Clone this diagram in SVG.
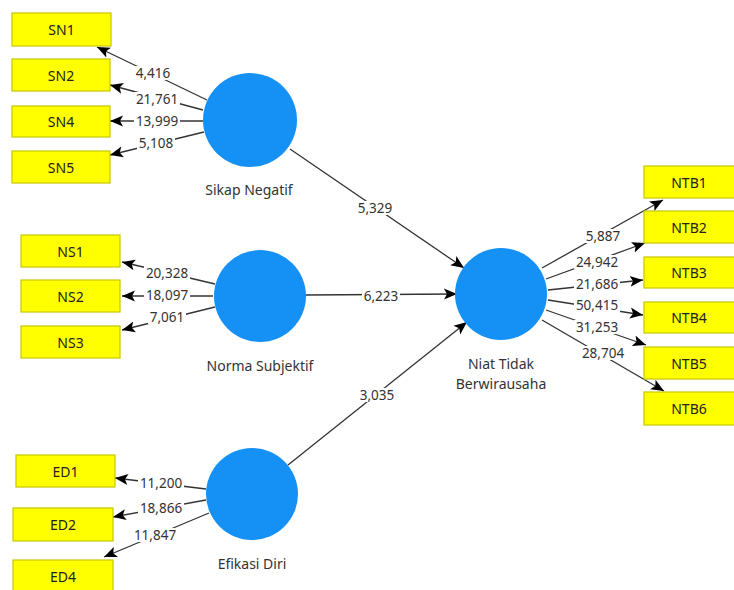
<svg xmlns="http://www.w3.org/2000/svg" width="734" height="590" viewBox="0 0 734 590">
<style>
.box{fill:#ffff00;stroke:#c6c600;stroke-width:1.2}
.bt{font-family:"Noto Sans","Open Sans",sans-serif;font-size:14px;fill:#222;text-anchor:middle;dominant-baseline:central}
.lv{fill:#1591f5}
.lt{font-family:"Noto Sans","Open Sans",sans-serif;font-size:14px;fill:#333;text-anchor:middle}
.e{stroke:#333;stroke-width:1.3;fill:none;marker-end:url(#ah)}
.bg{fill:#fff}
.w{font-family:"Noto Sans","Open Sans",sans-serif;font-size:13.5px;fill:#333;text-anchor:middle;dominant-baseline:central}
</style>
<defs>
<marker id="ah" markerUnits="userSpaceOnUse" markerWidth="14" markerHeight="12" refX="13" refY="6" orient="auto">
<path d="M0,0.5 L13,6 L0,11.5 L3,6 z" fill="#000"/>
</marker>
</defs>
<rect width="734" height="590" fill="#fff"/>
<g id="connectors">
<line class="e" x1="207" y1="100" x2="97" y2="47"/>
<line class="e" x1="203" y1="110" x2="110" y2="85"/>
<line class="e" x1="203" y1="121" x2="110" y2="121"/>
<line class="e" x1="204" y1="132" x2="110" y2="155"/>
<line class="e" x1="215" y1="284" x2="122" y2="262"/>
<line class="e" x1="213" y1="296" x2="122" y2="296"/>
<line class="e" x1="215" y1="307" x2="122" y2="330"/>
<line class="e" x1="206" y1="489" x2="115" y2="478"/>
<line class="e" x1="206" y1="500" x2="113" y2="517"/>
<line class="e" x1="209" y1="513" x2="104" y2="557"/>
<line class="e" x1="290" y1="149" x2="464" y2="268"/>
<line class="e" x1="306" y1="295" x2="457" y2="294"/>
<line class="e" x1="288" y1="465" x2="467" y2="322"/>
<line class="e" x1="542" y1="268" x2="663" y2="200"/>
<line class="e" x1="546" y1="279" x2="645" y2="243"/>
<line class="e" x1="548" y1="290" x2="643" y2="280"/>
<line class="e" x1="548" y1="300" x2="643" y2="315"/>
<line class="e" x1="546" y1="310" x2="646" y2="345"/>
<line class="e" x1="542" y1="320" x2="664" y2="391"/>
<rect class="bg" x="134" y="66" width="38" height="14"/><text class="w" x="153" y="73">4,416</text>
<rect class="bg" x="134" y="92" width="46" height="14"/><text class="w" x="157" y="99">21,761</text>
<rect class="bg" x="134" y="114" width="46" height="14"/><text class="w" x="157" y="121">13,999</text>
<rect class="bg" x="137" y="136" width="38" height="14"/><text class="w" x="156" y="143">5,108</text>
<rect class="bg" x="144" y="266" width="46" height="14"/><text class="w" x="167" y="273">20,328</text>
<rect class="bg" x="144" y="288" width="46" height="14"/><text class="w" x="167" y="295">18,097</text>
<rect class="bg" x="148" y="310" width="38" height="14"/><text class="w" x="167" y="317">7,061</text>
<rect class="bg" x="138" y="476" width="46" height="14"/><text class="w" x="161" y="483">11,200</text>
<rect class="bg" x="138" y="501" width="46" height="14"/><text class="w" x="161" y="508">18,866</text>
<rect class="bg" x="132" y="528" width="46" height="14"/><text class="w" x="155" y="535">11,847</text>
<rect class="bg" x="356" y="201" width="38" height="14"/><text class="w" x="375" y="208">5,329</text>
<rect class="bg" x="362" y="289" width="38" height="14"/><text class="w" x="381" y="296">6,223</text>
<rect class="bg" x="358" y="388" width="38" height="14"/><text class="w" x="377" y="395">3,035</text>
<rect class="bg" x="584" y="229" width="38" height="14"/><text class="w" x="603" y="236">5,887</text>
<rect class="bg" x="574" y="255" width="46" height="14"/><text class="w" x="597" y="262">24,942</text>
<rect class="bg" x="574" y="277" width="46" height="14"/><text class="w" x="597" y="284">21,686</text>
<rect class="bg" x="574" y="298" width="46" height="14"/><text class="w" x="597" y="305">50,415</text>
<rect class="bg" x="574" y="320" width="46" height="14"/><text class="w" x="597" y="327">31,253</text>
<rect class="bg" x="580" y="346" width="46" height="14"/><text class="w" x="603" y="353">28,704</text>
</g>
<g id="SN1"><rect class="box" x="12" y="13" width="99" height="33"/><text class="bt" x="61.5" y="29.5">SN1</text></g>
<g id="SN2"><rect class="box" x="12" y="59" width="98" height="32"/><text class="bt" x="61" y="75">SN2</text></g>
<g id="SN4"><rect class="box" x="12" y="106" width="98" height="31"/><text class="bt" x="61" y="121.5">SN4</text></g>
<g id="SN5"><rect class="box" x="12" y="151" width="98" height="32"/><text class="bt" x="61" y="167">SN5</text></g>
<g id="NS1"><rect class="box" x="21" y="235" width="99" height="32"/><text class="bt" x="70.5" y="251">NS1</text></g>
<g id="NS2"><rect class="box" x="21" y="280" width="99" height="32"/><text class="bt" x="70.5" y="296">NS2</text></g>
<g id="NS3"><rect class="box" x="21" y="326" width="99" height="32"/><text class="bt" x="70.5" y="342">NS3</text></g>
<g id="ED1"><rect class="box" x="16" y="455" width="99" height="32"/><text class="bt" x="65.5" y="471">ED1</text></g>
<g id="ED2"><rect class="box" x="13" y="508" width="100" height="33"/><text class="bt" x="63" y="524.5">ED2</text></g>
<g id="ED4"><rect class="box" x="13" y="560" width="100" height="33"/><text class="bt" x="63" y="576">ED4</text></g>
<g id="NTB1"><rect class="box" x="644" y="166" width="98" height="32"/><text class="bt" x="689" y="182">NTB1</text></g>
<g id="NTB2"><rect class="box" x="644" y="211" width="98" height="32"/><text class="bt" x="689" y="227">NTB2</text></g>
<g id="NTB3"><rect class="box" x="644" y="257" width="98" height="31"/><text class="bt" x="689" y="272.5">NTB3</text></g>
<g id="NTB4"><rect class="box" x="644" y="302" width="98" height="31"/><text class="bt" x="689" y="317.5">NTB4</text></g>
<g id="NTB5"><rect class="box" x="644" y="347" width="98" height="32"/><text class="bt" x="689" y="363">NTB5</text></g>
<g id="NTB6"><rect class="box" x="644" y="392" width="98" height="33"/><text class="bt" x="689" y="408.5">NTB6</text></g>
<g id="SikapNegatif"><circle class="lv" cx="250" cy="120" r="47"/><text class="lt" x="249" y="195">Sikap Negatif</text></g>
<g id="NormaSubjektif"><circle class="lv" cx="260" cy="296" r="46"/><text class="lt" x="260" y="371">Norma Subjektif</text></g>
<g id="EfikasiDiri"><circle class="lv" cx="252" cy="494" r="46"/><text class="lt" x="252" y="569">Efikasi Diri</text></g>
<g id="NiatTidakBerwirausaha"><circle class="lv" cx="501" cy="294" r="46"/><text class="lt" x="501" y="369">Niat Tidak</text><text class="lt" x="501" y="389">Berwirausaha</text></g>
</svg>
